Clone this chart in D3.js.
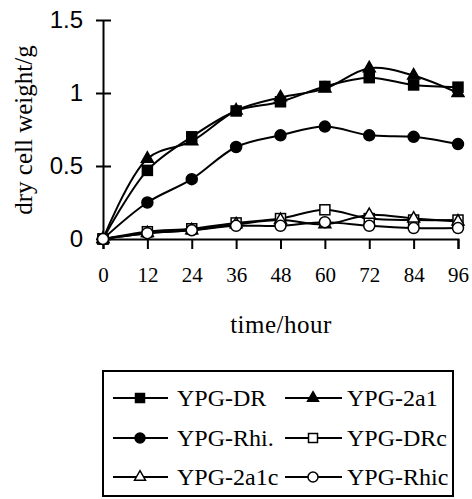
<!DOCTYPE html>
<html><head><meta charset="utf-8">
<script src="https://cdn.jsdelivr.net/npm/d3@7"></script>
<style>body{margin:0;background:#fff}</style>
</head><body>
<svg id="c" width="472" height="499"></svg>
<script>
const hours = [0, 12, 24, 36, 48, 60, 72, 84, 96];
const yTicks = [0, 0.5, 1, 1.5];
const yTickLabels = ["0", "0.5", "1", "1.5"];
const seriesNames = ["YPG-DR", "YPG-2a1", "YPG-Rhi.", "YPG-DRc", "YPG-2a1c", "YPG-Rhic"];
const ypgDR   = [0, 0.47, 0.70, 0.877, 0.94, 1.045, 1.105, 1.055, 1.04];
const ypg2a1  = [0, 0.55, 0.67, 0.88, 0.97, 1.03, 1.17, 1.12, 1.00];
const ypgRhi  = [0, 0.25, 0.41, 0.63, 0.71, 0.77, 0.71, 0.70, 0.65];
const ypgDRc  = [0, 0.05, 0.07, 0.11, 0.14, 0.20, 0.14, 0.13, 0.13];
const ypg2a1c = [0, 0.04, 0.06, 0.10, 0.13, 0.10, 0.165, 0.14, 0.12];
const ypgRhic = [0, 0.04, 0.06, 0.09, 0.09, 0.115, 0.09, 0.075, 0.075];

const series = [
  {name: seriesNames[0], values: ypgDR,   shape: "square",   fill: "#000"},
  {name: seriesNames[1], values: ypg2a1,  shape: "triangle", fill: "#000"},
  {name: seriesNames[2], values: ypgRhi,  shape: "circle",   fill: "#000"},
  {name: seriesNames[3], values: ypgDRc,  shape: "square",   fill: "#fff"},
  {name: seriesNames[4], values: ypg2a1c, shape: "triangle", fill: "#fff"},
  {name: seriesNames[5], values: ypgRhic, shape: "circle",   fill: "#fff"}
];

const svg = d3.select("#c");
const x = d3.scaleLinear().domain([0, 96]).range([103, 458]);
const y = d3.scaleLinear().domain([0, 1.5]).range([239, 20]);

// y axis
const gy = svg.append("g").attr("transform", `translate(${x(0)},0)`)
  .call(d3.axisLeft(y).tickValues(yTicks).tickFormat((d,i)=>yTickLabels[i]).tickSize(0).tickPadding(20));
gy.select(".domain").attr("stroke", "#000").attr("stroke-width", 2);
gy.selectAll(".tick line").remove();
gy.selectAll(".tick").append("line").attr("x1", -7).attr("x2", 8).attr("stroke", "#000").attr("stroke-width", 2);
gy.selectAll("text").attr("font-family", "Liberation Sans, Arial, sans-serif").attr("font-size", 24).attr("fill", "#000");

// x axis
const gx = svg.append("g").attr("transform", `translate(0,${y(0)})`)
  .call(d3.axisBottom(x).tickValues(hours).tickSize(10).tickPadding(18));
gx.select(".domain").attr("stroke", "#000").attr("stroke-width", 2);
gx.selectAll(".tick line").attr("stroke", "#000").attr("stroke-width", 2);
gx.selectAll("text").attr("font-family", "Liberation Serif, Times New Roman, serif").attr("font-size", 21).attr("fill", "#000");

// axis titles
svg.append("text").attr("transform", "translate(32,130) rotate(-90)").attr("text-anchor", "middle")
  .attr("font-family", "Liberation Serif, Times New Roman, serif").attr("font-size", 25).text("dry cell weight/g");
svg.append("text").attr("x", 281).attr("y", 333).attr("text-anchor", "middle")
  .attr("font-family", "Liberation Serif, Times New Roman, serif").attr("font-size", 25).attr("letter-spacing", 0.5).text("time/hour");

function drawMarker(g, shape, fill, size) {
  if (shape === "square") {
    g.append("rect").attr("x", -size/2).attr("y", -size/2).attr("width", size).attr("height", size)
      .attr("fill", fill).attr("stroke", "#000").attr("stroke-width", 1.5);
  } else if (shape === "circle") {
    g.append("circle").attr("r", size/2 + 0.5).attr("fill", fill).attr("stroke", "#000").attr("stroke-width", 1.5);
  } else {
    const s = size + 2;
    g.append("path").attr("d", d3.symbol(d3.symbolTriangle, s*s*0.43)())
      .attr("fill", fill).attr("stroke", "#000").attr("stroke-width", 1.5);
  }
}

const line = d3.line().x((d,i)=>x(hours[i])).y(d=>y(d)).curve(d3.curveCatmullRom.alpha(0.5));
series.forEach(s => {
  svg.append("path").datum(s.values).attr("d", line).attr("fill", "none").attr("stroke", "#000").attr("stroke-width", 2);
});
series.forEach(s => {
  s.values.forEach((v,i) => {
    const g = svg.append("g").attr("transform", `translate(${x(hours[i])},${y(v)})`);
    drawMarker(g, s.shape, s.fill, 10);
  });
});

// legend
svg.append("rect").attr("x", 103).attr("y", 371).attr("width", 350).attr("height", 125)
  .attr("fill", "none").attr("stroke", "#000").attr("stroke-width", 2);
const colX = [{l1:113,l2:168,m:140,t:177},{l1:285,l2:342,m:313,t:347}];
const rowY = [398, 438, 477];
series.forEach((s, i) => {
  const c = colX[i % 2], ry = rowY[Math.floor(i/2)];
  svg.append("line").attr("x1", c.l1).attr("x2", c.l2).attr("y1", ry).attr("y2", ry).attr("stroke", "#000").attr("stroke-width", 2);
  const g = svg.append("g").attr("transform", `translate(${c.m},${ry})`);
  drawMarker(g, s.shape, s.fill, 9);
  svg.append("text").attr("x", c.t).attr("y", ry + 8).attr("font-family", "Liberation Serif, Times New Roman, serif")
    .attr("font-size", 24).text(s.name);
});
</script>
</body></html>
